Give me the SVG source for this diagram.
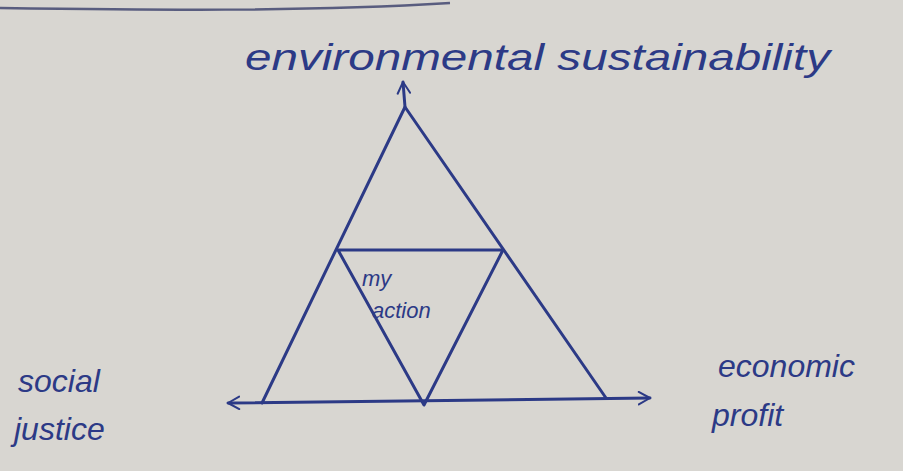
<svg xmlns="http://www.w3.org/2000/svg" width="903" height="471" viewBox="0 0 903 471">
<style>
.ink{fill:none;stroke:#2c3a86;stroke-width:3;stroke-linecap:round;stroke-linejoin:round}
.lbl{font-family:"Liberation Sans","DejaVu Sans",sans-serif;font-style:italic;fill:#2c3a86}
</style>
<defs>
<marker id="ah" viewBox="0 0 12 12" refX="10" refY="6" markerWidth="5" markerHeight="5" orient="auto-start-reverse" markerUnits="strokeWidth">
<path d="M1,1 L10,6 L1,11" fill="none" stroke="#2c3a86" stroke-width="1.6" stroke-linecap="round" stroke-linejoin="round"/>
</marker>
</defs>
<rect width="903" height="471" fill="#d8d6d1"/>
<path d="M0,8 C150,10 300,12 450,3" fill="none" stroke="#3a3f6a" stroke-width="2.5" opacity="0.8"/>
<g id="connectors">
<path class="ink" d="M262,403 L405,107 L606,398"/>
<path class="ink" d="M228,403 L650,398" marker-start="url(#ah)" marker-end="url(#ah)"/>
<path class="ink" d="M405,107 L403,82" marker-end="url(#ah)"/>
</g>
<g id="my-action">
<path class="ink" d="M338,250 L503,250 L424,405 Z"/>
<text class="lbl" x="362" y="286" font-size="22">my</text>
<text class="lbl" x="372" y="318" font-size="22">action</text>
</g>
<g id="environmental-sustainability">
<text class="lbl" x="245" y="70" font-size="36" textLength="585" lengthAdjust="spacingAndGlyphs">environmental sustainability</text>
</g>
<g id="social-justice">
<text class="lbl" x="18" y="392" font-size="32">social</text>
<text class="lbl" x="14" y="440" font-size="32">justice</text>
</g>
<g id="economic-profit">
<text class="lbl" x="718" y="377" font-size="32">economic</text>
<text class="lbl" x="712" y="426" font-size="32">profit</text>
</g>
</svg>
